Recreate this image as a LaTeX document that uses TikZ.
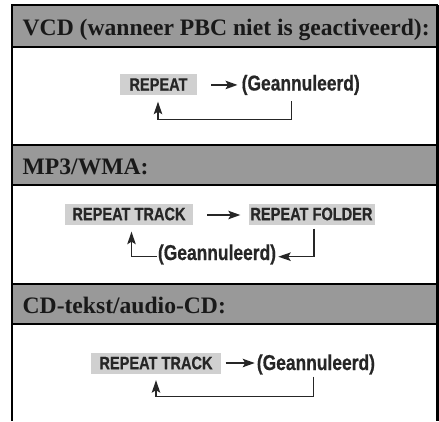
\documentclass[tikz,border=0pt]{standalone}
\usepackage{fontspec}
\setmainfont{Liberation Serif}
\newfontfamily\condfont[FakeStretch=0.81,FakeBold=0.6]{Liberation Sans Bold}
\usetikzlibrary{arrows.meta,calc}

\definecolor{headgray}{RGB}{153,153,153}
\definecolor{boxgray}{RGB}{208,208,208}
\definecolor{inkgray}{RGB}{38,38,38}

\tikzset{
  header/.style={draw=black, line width=2pt, fill=headgray},
  headtext/.style={anchor=base west, inner sep=0pt, text=black!90,
    font=\fontsize{23.6}{26}\selectfont\bfseries},
  repbox/.style={fill=boxgray, inner sep=0pt, minimum height=21pt, text=inkgray,
    font=\condfont\fontsize{18}{20}\selectfont},
  cancel/.style={inner sep=0pt, text=inkgray,
    font=\condfont\fontsize{21.5}{23}\selectfont},
  arrow/.style={draw=inkgray, line width=1.3pt, -{Stealth[length=12pt,width=8.5pt,inset=2.5pt]}},
  backarrow/.style={draw=inkgray, line width=1.3pt, -{Stealth[length=12.5pt,width=8.5pt,inset=2.5pt]}}
}

\begin{document}
\begin{tikzpicture}[x=1pt,y=-1pt]
\useasboundingbox (0,0) rectangle (439,421);

% frame and grey headers
\draw[header] (12,5.3) rectangle (437,46.7);
\draw[header] (12,145.2) rectangle (437,184.8);
\draw[header] (12,284.3) rectangle (437,323.7);
\draw[line width=2pt] (12,5.3) -- (12,421);
\draw[line width=2.7pt] (437.3,5.3) -- (437.3,421);

\node[headtext] (head1) at (22.5,35) {VCD (wanneer PBC niet is geactiveerd):};
\node[headtext] (head2) at (22.5,174) {MP3/WMA:};
\node[headtext] (head3) at (22.5,313) {CD-tekst/audio-CD:};

% VCD
\node[repbox, minimum width=77pt] (rep1) at (158.5,84.5) {REPEAT};
\node[cancel, anchor=base west] (gean1) at (241.5,90.5) {(Geannuleerd)};
\draw[arrow] ($(rep1.east |- gean1.west)+(14,0)$) -- ($(gean1.west)+(-4,0)$);
\draw[backarrow] ($(gean1.south west)+(50,6)$) -- ++(0,18.5) -| ($(rep1.south)+(-0.5,6.5)$);

% MP3/WMA
\node[repbox, minimum width=128pt] (rt2) at (129,214) {REPEAT TRACK};
\node[repbox, minimum width=126pt] (rf2) at (311.5,214) {REPEAT FOLDER};
\node[cancel, anchor=base] (gean2) at (217,260) {(Geannuleerd)};
\draw[arrow] ($(rt2.east)+(14,1)$) -- ($(rf2.west)+(-8,1)$);
\draw[backarrow] ($(rf2.south)+(2.5,4)$) |- ($(gean2.base east)+(2,-3.3)$);
\draw[backarrow] ($(gean2.base west)+(-1,-3.3)$) -| ($(rt2.south)+(2.5,7)$);

% CD-tekst/audio-CD
\node[repbox, minimum width=130pt] (rt3) at (156,363) {REPEAT TRACK};
\node[cancel, anchor=base west] (gean3) at (256.7,370) {(Geannuleerd)};
\draw[arrow] ($(rt3.east)+(4.5,0)$) -- ($(gean3.west |- rt3.east)+(-2,0)$);
\draw[backarrow] ($(gean3.south west)+(56.6,2)$) -- ++(0,20) -| ($(rt3.south)+(0,6.5)$);

\end{tikzpicture}
\end{document}
